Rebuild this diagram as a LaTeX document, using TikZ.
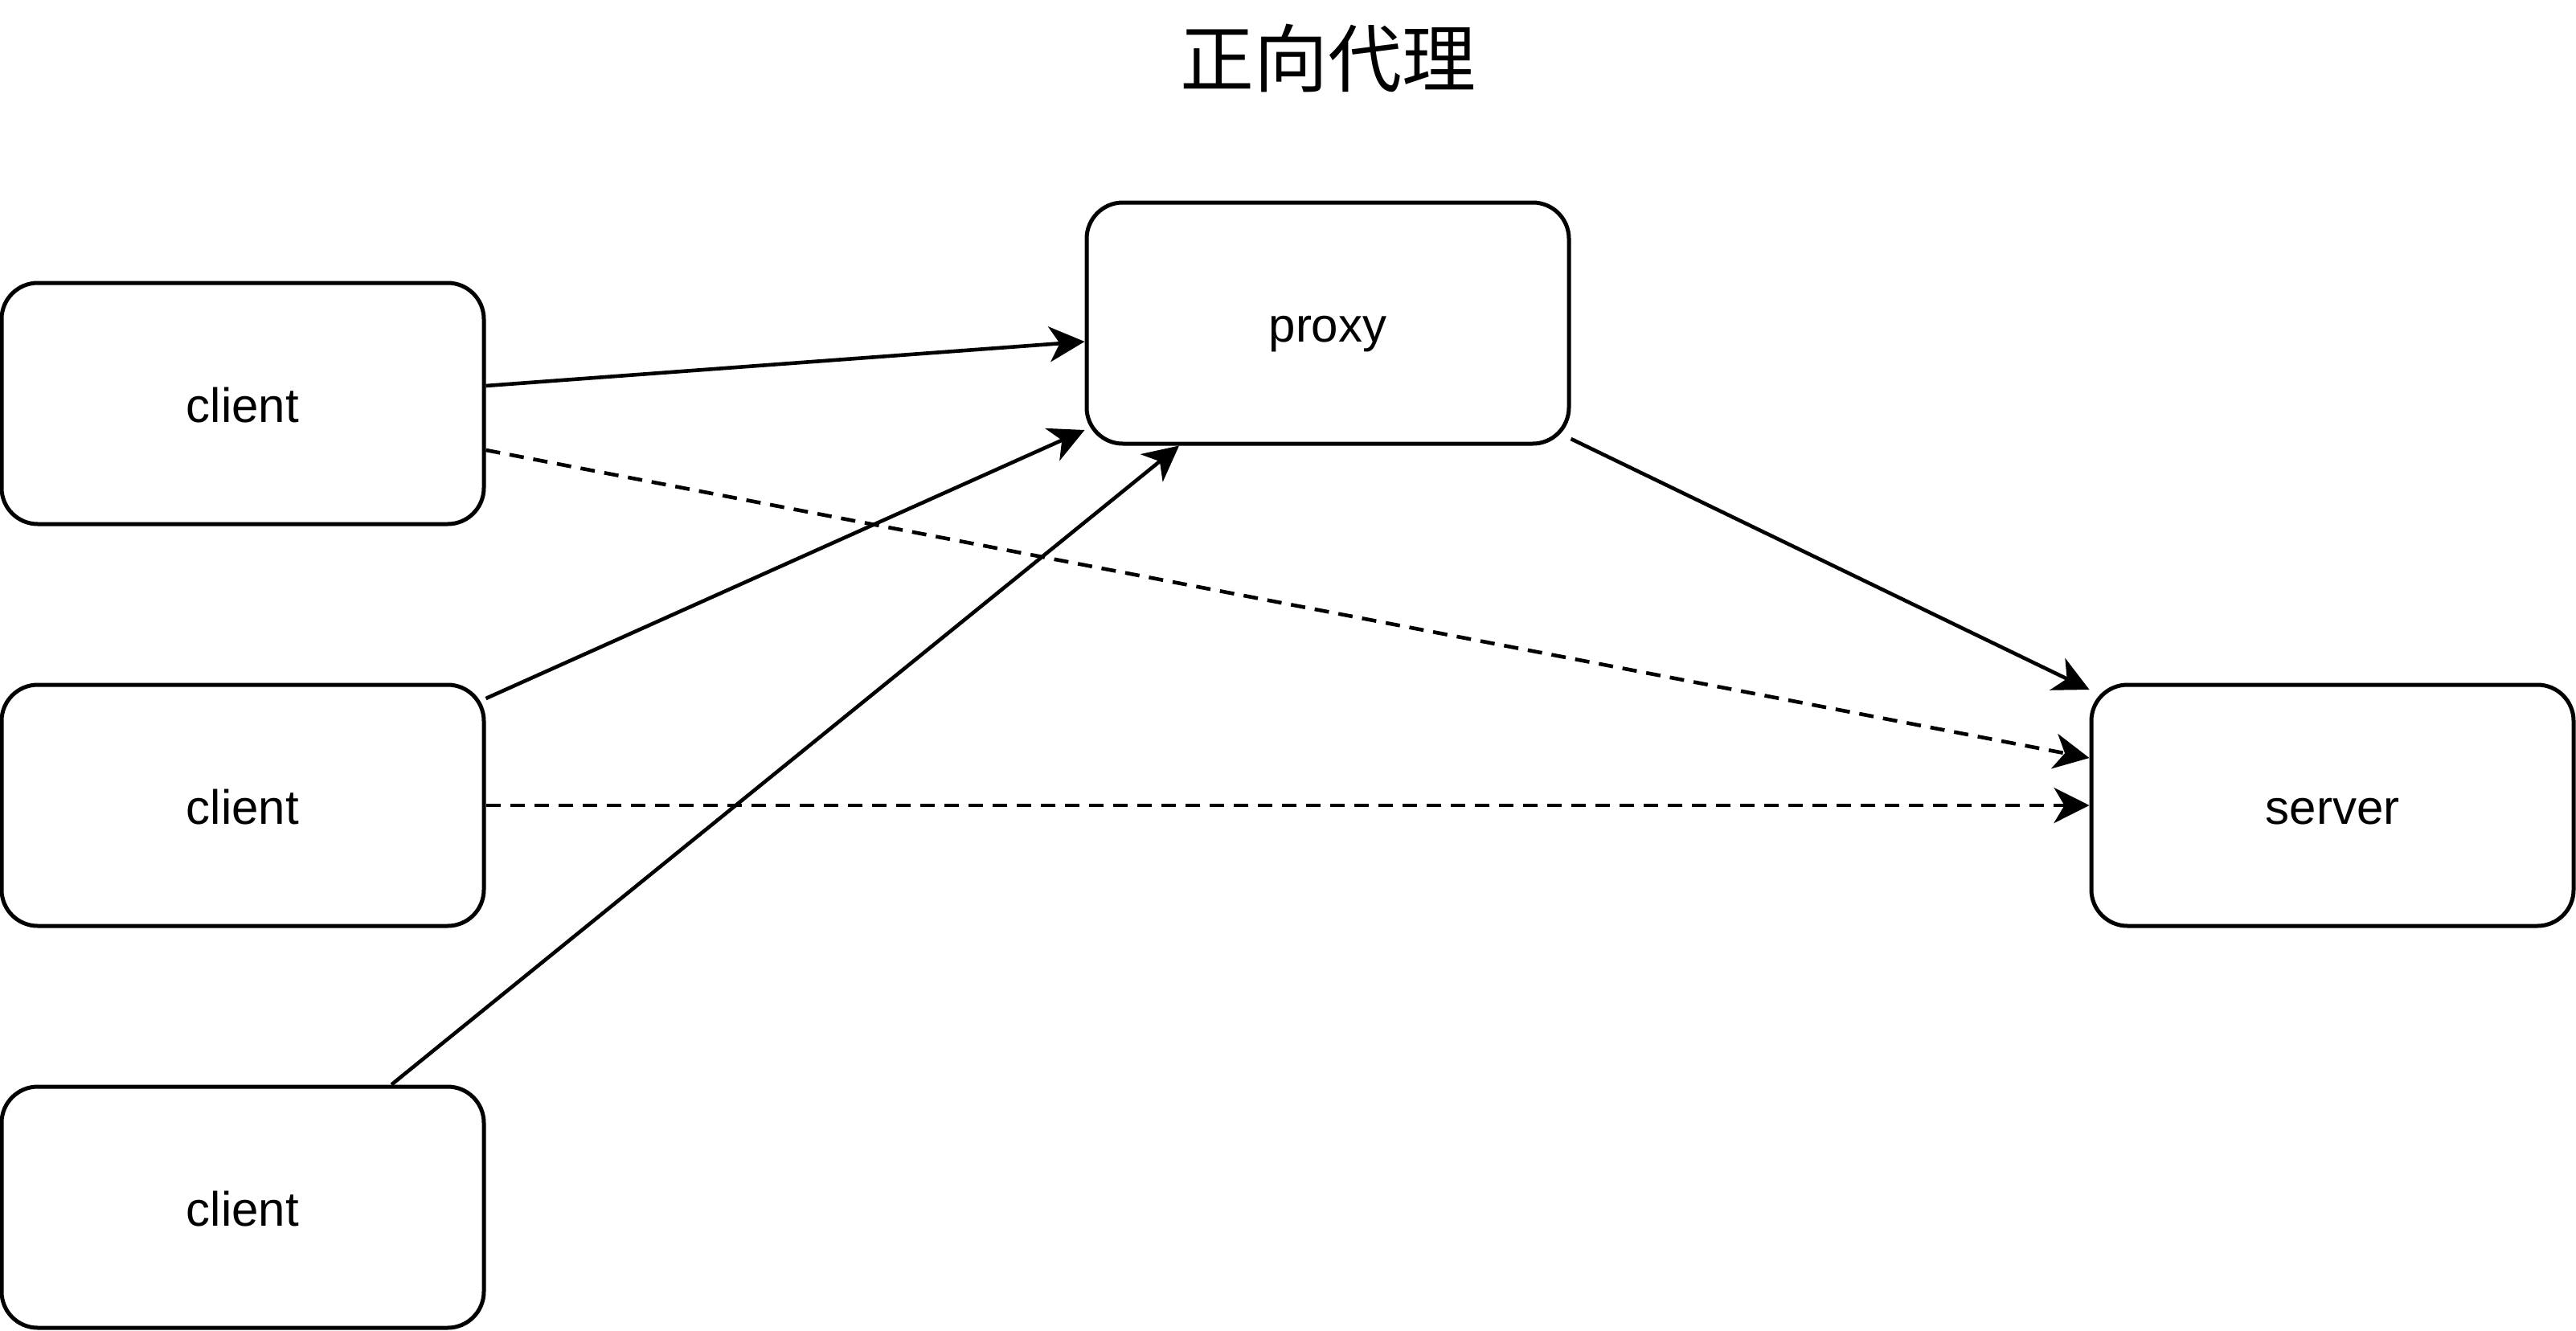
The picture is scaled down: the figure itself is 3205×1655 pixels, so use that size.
\documentclass[tikz,border=0pt]{standalone}
\usepackage{fontspec}
\setmainfont{Liberation Sans}
\newfontfamily\cjk{Noto Sans CJK SC}
\usetikzlibrary{arrows.meta,calc}
\tikzset{
  box/.style={draw, line width=5pt, rounded corners=45pt, minimum width=600pt, minimum height=300pt,
    inner sep=0pt, font=\fontsize{60pt}{72pt}\selectfont, text height=46pt, text depth=0pt},
  conn/.style={line width=4.6pt, -{Stealth[length=44pt,width=44pt,inset=13pt]}},
  dashconn/.style={conn, dash pattern=on 18pt off 12pt},
}
\begin{document}
\begin{tikzpicture}[x=1pt,y=-1pt]
\useasboundingbox (0,0) rectangle (3205,1655);
\node[font=\cjk\fontsize{92pt}{110pt}\selectfont, inner sep=0pt] (title) at (1652,73) {正向代理};
\node[box] (c1) at (302,502) {client};
\node[box] (c2) at (302,1002) {client};
\node[box] (c3) at (302,1502) {client};
\node[box] (proxy) at (1652,402) {proxy};
\node[box] (server) at (2902,1002) {server};

\draw[conn] ($(c1.east)+(0,-22)$) -- ($(proxy.west)+(0,23)$);
\draw[dashconn] ($(c1.east)+(0,58)$) -- ($(server.west)+(0,-59)$);
\draw[conn] ($(c2.east)+(0,-133)$) -- ($(proxy.west)+(0,133)$);
\draw[dashconn] (c2.east) -- (server.west);
\draw[conn] ($(c3.north)+(185,0)$) -- ($(proxy.south)+(-185,0)$);
\draw[conn] ($(proxy.east)+(0,144)$) -- ($(server.west)+(0,-144)$);
\end{tikzpicture}
\end{document}
